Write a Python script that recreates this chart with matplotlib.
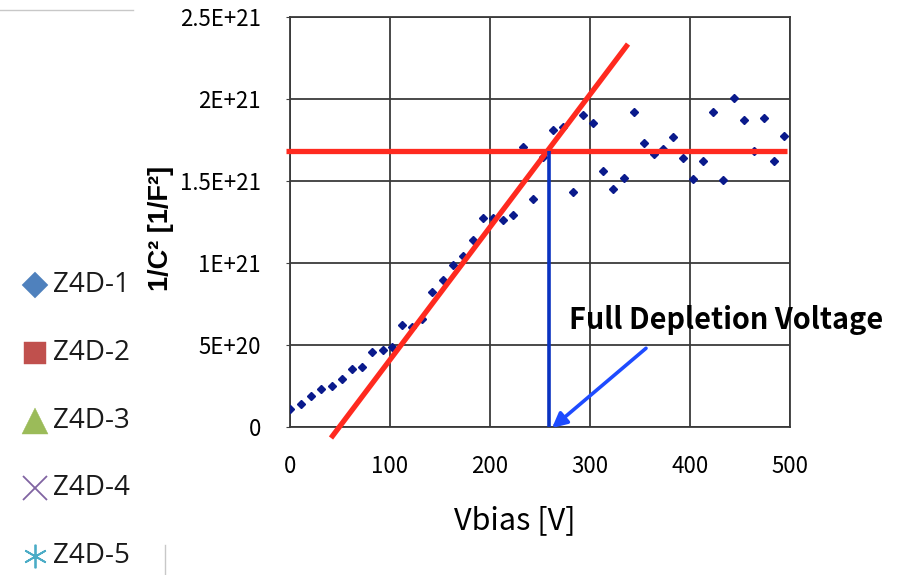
import matplotlib
matplotlib.use("Agg")
import matplotlib.pyplot as plt
from matplotlib.lines import Line2D
import numpy as np

# ---- data ----
vbias = [0, 11, 21, 31, 42, 52, 62, 72, 82, 93, 102, 112, 122, 132, 142, 153, 163, 173, 183, 193,
         203, 213, 223, 233, 243, 253, 263, 273, 283, 293, 303, 313, 323, 334, 344, 354, 364, 373,
         383, 393, 403, 413, 423, 433, 444, 454, 464, 474, 484, 494]
inv_c2 = [0.108, 0.138, 0.189, 0.232, 0.248, 0.293, 0.352, 0.368, 0.455, 0.470, 0.490, 0.624, 0.608,
          0.660, 0.821, 0.898, 0.990, 1.043, 1.138, 1.273, 1.276, 1.264, 1.293, 1.710, 1.390, 1.648,
          1.809, 1.831, 1.433, 1.902, 1.852, 1.563, 1.451, 1.518, 1.921, 1.734, 1.665, 1.695, 1.768,
          1.638, 1.512, 1.624, 1.921, 1.506, 2.006, 1.870, 1.685, 1.886, 1.624, 1.776]
inv_c2 = [v * 1e21 for v in inv_c2]

fit_x = [41, 338]
fit_y = [-0.067e21, 2.335e21]
plateau_x = [-4, 497]
plateau_y = 1.683e21
vfd = 259
arrow_start = (356, 0.48e21)
arrow_end = (262, -0.006e21)

xticks = [0, 100, 200, 300, 400, 500]
yticks = [0, 0.5e21, 1.0e21, 1.5e21, 2.0e21, 2.5e21]
ytick_labels = ["0", "5E+20", "1E+21", "1.5E+21", "2E+21", "2.5E+21"]

legend_labels = ["Z4D-1", "Z4D-2", "Z4D-3", "Z4D-4", "Z4D-5"]
legend_markers = ["D", "s", "^", "x", (6, 2, 0)]
legend_colors = ["#4F81BD", "#C0504D", "#9BBB59", "#8064A2", "#4BACC6"]
legend_sizes = [13.5, 16, 19, 17, 17]

# ---- figure ----
W, H = 904, 575
fig = plt.figure(figsize=(W / 100, H / 100), dpi=100)
ax = fig.add_axes([290 / W, 1 - 427 / H, 500 / W, 410 / H])

tick_font = ["Noto Sans CJK JP", "DejaVu Sans"]

ax.set_xlim(0, 500)
ax.set_ylim(0, 2.5e21)
ax.set_xticks(xticks)
ax.set_xticklabels([str(t) for t in xticks], family=tick_font, fontsize=16)
ax.set_yticks(yticks)
ax.set_yticklabels(ytick_labels, family=tick_font, fontsize=16)
ax.tick_params(axis="x", length=0, pad=20)
ax.tick_params(axis="y", length=3, direction="out", pad=18, color="#404040")
ax.grid(True, color="#3a3a3a", linewidth=1.3)
for s in ax.spines.values():
    s.set_color("#3a3a3a")
    s.set_linewidth(1.3)

ax.plot(vbias, inv_c2, linestyle="none", marker="D", markersize=3.6,
        color="#0A1A8C", zorder=3)

ax.plot(fit_x, fit_y, color="#FF2A1F", linewidth=3.8, clip_on=False, zorder=4,
        solid_capstyle="butt")
ax.plot(plateau_x, [plateau_y, plateau_y], color="#FF2A1F", linewidth=3.8, clip_on=False,
        zorder=4, solid_capstyle="butt")
ax.plot([vfd, vfd], [0, plateau_y], color="#0A32C0", linewidth=2.6, zorder=5,
        solid_capstyle="butt")
ax.annotate("", xy=arrow_end, xytext=arrow_start,
            arrowprops=dict(arrowstyle="-|>", color="#1E4BFF", lw=2.6,
                            mutation_scale=22, shrinkA=0, shrinkB=0),
            annotation_clip=False, zorder=6)
ax.text(279, 0.652e21, "Full Depletion Voltage", family=tick_font, fontsize=20.8,
        fontweight="bold", ha="left", va="center", zorder=7)

fig.text(161 / W, 1 - 228 / H, "1/C² [1/F²]", rotation=90, ha="center", va="center",
         fontsize=19.5, fontweight="bold", family=["Liberation Sans", "DejaVu Sans"])
fig.text(515 / W, 1 - 521 / H, "Vbias [V]", ha="center", va="center",
         fontsize=22, family=tick_font)

# legend (drawn entry by entry)
leg_y0, leg_dy = 285, 67.8
for i, (lab, m, c, ms) in enumerate(zip(legend_labels, legend_markers, legend_colors, legend_sizes)):
    yy = 1 - (leg_y0 + i * leg_dy) / H
    thin = m == "x" or isinstance(m, tuple)
    fig.add_artist(Line2D([35 / W], [yy], linestyle="none", marker=m, color=c,
                          markersize=ms,
                          markeredgewidth=1.3 if thin else 0.3))
    fig.text(53 / W, yy, lab, ha="left", va="center", fontsize=20,
             family=["Open Sans", "DejaVu Sans"], color="#1a1a1a")

# frame fragments
fig.add_artist(Line2D([0, 133 / W], [1 - 10 / H, 1 - 10 / H], color="#c8c8c8", lw=1))
fig.add_artist(Line2D([165 / W, 165 / W], [0, 1 - 545 / H], color="#c8c8c8", lw=1))

fig.savefig("out.png", dpi=100)
